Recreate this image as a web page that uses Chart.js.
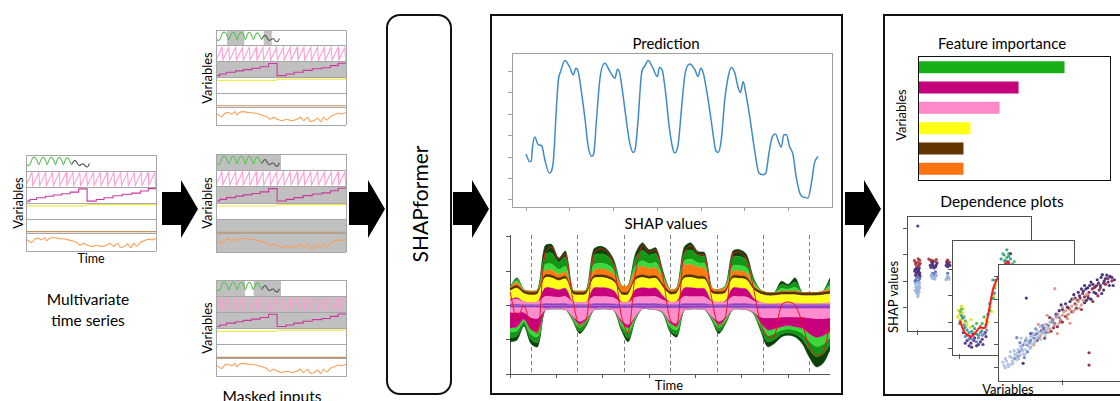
<!DOCTYPE html>
<html>
<head>
<meta charset="utf-8">
<script src="https://cdn.jsdelivr.net/npm/chart.js@4.4.1/dist/chart.umd.min.js"></script>
<style>
  body { margin:0; width:1120px; height:401px; overflow:hidden; background:#fff; position:relative; font-family: Lato, 'Open Sans', sans-serif; color:#000; }
  .t { position:absolute; transform:translate(-50%,-50%); white-space:nowrap; line-height:1; }
  .r { transform:translate(-50%,-50%) rotate(-90deg); }
  .box { position:absolute; box-sizing:border-box; border:2px solid #111; }
  .arrow { position:absolute; width:36px; height:58px; top:180px; background:#000;
           clip-path: polygon(0 12px, 19px 12px, 19px 0, 36px 29px, 19px 58px, 19px 45px, 0 45px); }
  .frame { position:absolute; box-sizing:border-box; background:#fff; border:1.5px solid #4d4d4d; }
  canvas { position:absolute; }
</style>
</head>
<body>

<!-- left: input series -->
<div class="t r" style="left:18px;top:203px;font-size:13px">Variables</div>
<div class="t" style="left:91px;top:259px;font-size:12.5px">Time</div>
<div class="t" style="left:88px;top:300px;font-size:15.5px">Multivariate</div>
<div class="t" style="left:88px;top:321px;font-size:15.5px">time series</div>

<div class="arrow" style="left:162px"></div>

<!-- masked inputs -->
<div class="t r" style="left:207px;top:78px;font-size:13px">Variables</div>
<div class="t r" style="left:207px;top:203px;font-size:13px">Variables</div>
<div class="t r" style="left:207px;top:328px;font-size:13px">Variables</div>
<div class="t" style="left:272px;top:397px;font-size:15.5px">Masked inputs</div>

<div class="arrow" style="left:349px"></div>

<div class="box" style="left:386px;top:14px;width:66px;height:381px;border-radius:14px"></div>
<div class="t r" style="left:419px;top:204px;font-size:21px">SHAPformer</div>

<div class="arrow" style="left:453px"></div>

<!-- middle box -->
<div class="box" style="left:490px;top:14px;width:353px;height:381px"></div>
<div class="t" style="left:666px;top:43px;font-size:15px">Prediction</div>
<div class="t" style="left:666px;top:223px;font-size:15px">SHAP values</div>
<div class="t" style="left:669px;top:385px;font-size:13px">Time</div>

<div class="arrow" style="left:845px"></div>

<!-- right box -->
<div class="box" style="left:883px;top:14px;width:260px;height:382px"></div>
<div class="t" style="left:1002px;top:43px;font-size:15px">Feature importance</div>
<div class="t r" style="left:901px;top:115px;font-size:13px">Variables</div>
<div class="t" style="left:1002px;top:202px;font-size:15.5px">Dependence plots</div>
<div class="t r" style="left:893px;top:297px;font-size:13px">SHAP values</div>
<div class="t" style="left:1008px;top:389px;font-size:13px">Variables</div>

<div class="frame" id="fiFrame" style="left:918px;top:56px;width:193px;height:125px;border:1.5px solid #111"></div>
<div class="frame" id="dp1" style="left:907px;top:216px;width:125px;height:116px"></div>
<div class="frame" id="dp2" style="left:952px;top:240px;width:123px;height:116px"></div>
<div class="frame" id="dp3" style="left:998px;top:264px;width:130px;height:118px"></div>

<script>
// ---- input series, time 0..100, each band 0..1 ----
const greenWave = [[0.5,0.4],[2,0.34],[3.6,0.5],[5,0.8],[6.7,0.86],[8.2,0.7],[9.8,0.4],[11.3,0.66],[12.9,0.86],[14.7,0.74],[16.2,0.4],[17.7,0.7],[19.3,0.86],[21,0.74],[22.6,0.4],[24.2,0.74],[25.7,0.86],[27.2,0.7],[28.8,0.4],[30.3,0.7],[31.9,0.82],[33.4,0.66],[35,0.4]];
const greyWave = [[35,0.4],[36.5,0.58],[38,0.66],[39.6,0.46],[41,0.34],[42.7,0.42],[44.2,0.44],[45.8,0.3],[47.3,0.26],[48.8,0.46]];
const pinkSaw = [[0,0.1],[4.6,0.9],[5.25,0.1],[9.85,0.9],[10.5,0.1],[15.1,0.9],[15.75,0.1],[20.35,0.9],[21,0.1],[25.6,0.9],[26.25,0.1],[30.85,0.9],[31.5,0.1],[36.1,0.9],[36.75,0.1],[41.35,0.9],[42,0.1],[46.6,0.9],[47.25,0.1],[51.85,0.9],[52.5,0.1],[57.1,0.9],[57.75,0.1],[62.35,0.9],[63,0.1],[67.6,0.9],[68.25,0.1],[72.85,0.9],[73.5,0.1],[78.1,0.9],[78.75,0.1],[83.35,0.9],[84,0.1],[88.6,0.9],[89.25,0.1],[93.85,0.9],[94.5,0.1],[99.1,0.9],[99.75,0.1],[100,0.2]];
const magentaSteps = [[0,0.9],[3,0.12],[8,0.22],[15,0.33],[21,0.42],[27.5,0.5],[34,0.58],[40.5,0.68],[47,0.88],[54,0.12],[60,0.22],[67,0.33],[74,0.45],[81.5,0.55],[88,0.62],[94,0.75],[99,0.9],[100,0.9]];
const yellowLine = [[0,0.82],[46,0.82],[47,0.9],[100,0.9]];
const brownLine = [[0,0.1],[100,0.1]];
const orangeLine = [[0.5,0.66],[1.8,0.57],[4.4,0.47],[6.9,0.66],[9.5,0.7],[12.1,0.62],[14.7,0.74],[15.9,0.57],[18,0.7],[21.1,0.75],[24.9,0.7],[30.1,0.66],[35.2,0.57],[39.1,0.47],[41.6,0.32],[44.2,0.43],[47.3,0.32],[50.6,0.25],[54.5,0.32],[58.4,0.25],[62.2,0.32],[64.8,0.43],[67.4,0.25],[70.4,0.43],[72.5,0.21],[75.6,0.25],[78.1,0.38],[80.7,0.19],[82.8,0.43],[85.3,0.28],[87.9,0.47],[91,0.57],[94.3,0.66],[96.9,0.62],[100,0.7]];

// masked parts: [band, from, to]
const maskTop = [[1,8.2,21.9],[1,36.5,43],[3,0,100]];
const maskMid = [[1,0,50],[3,0,100],[5,0,100],[6,0,100]];
const maskBottom = [[1,0,22.4],[1,28.8,50],[2,0,100],[3,0,100]];

// ---- prediction ----
const predX = [0,0.08,0.12,0.15,0.2,0.28,0.36,0.43,0.53,0.62,0.7,0.74,0.79,0.89,0.99,1.08,1.14,1.2,1.27,1.35,1.42,1.5,1.55,1.61,1.69,1.8,1.92,2.03,2.09,2.14,2.22,2.3,2.37,2.45,2.5,2.56,2.64,2.71,2.79,2.9,3.0,3.05,3.12,3.19,3.27,3.35,3.4,3.48,3.55,3.63,3.74,3.86,3.93,3.99,4.05,4.16,4.26,4.33,4.39,4.46,4.54,4.62,4.69,4.77,4.84,4.9,4.96,5.02,5.11,5.22,5.32,5.41,5.48,5.55,5.63,5.7,5.78,5.83,5.89,5.95,6.02,6.1,6.17,6.27,6.37,6.44,6.52,6.59,6.67];
const predY = [2.15,1.8,1.8,2.5,2.94,2.58,2.53,1.88,1.26,1.73,4.5,5.61,6.0,6.52,6.24,5.85,6.16,5.93,4.99,3.75,2.5,2.04,2.19,3.75,5.69,6.39,6.0,5.69,6.11,5.93,4.84,3.59,2.66,2.22,2.43,3.75,5.93,6.24,6.52,6.16,5.77,6.19,6.0,4.99,3.44,2.43,2.19,2.66,4.21,5.85,6.36,6.08,5.77,6.16,5.93,4.68,3.28,2.35,2.22,2.81,4.68,5.77,6.19,5.93,5.3,5.02,5.54,4.99,3.9,2.35,1.26,1.18,1.26,2.19,2.97,3.08,2.66,2.46,3.05,3.05,2.5,2.12,1.1,0.25,0.12,0.09,0.79,1.73,2.04];
const predXTicks = [0,1,2,3,4,5,6];
const predYTicks = [0,1,2,3,4,5,6];

// ---- SHAP values (stacked, positive and negative parts per variable) ----
const shapTime = [0,0.15,0.3,0.45,0.6,0.75,0.9,1.05,1.2,1.35,1.5,1.65,1.8,1.95,2.1,2.25,2.4,2.55,2.7,2.85,3,3.15,3.3,3.45,3.6,3.75,3.9,4.05,4.2,4.35,4.5,4.65,4.8,4.95,5.1,5.25,5.4,5.55,5.7,5.85,6,6.15,6.3,6.45,6.6,6.75,6.9];
const shapUpPurple = [0.03,0.03,0.02,0.02,0.02, 0.05,0.05,0.05,0.05, 0.02,0.02,0.02, 0.05,0.05,0.05,0.04, 0.02,0.02, 0.05,0.05,0.05,0.05, 0.03,0.02,0.02, 0.05,0.05,0.05,0.05, 0.02,0.02,0.02, 0.05,0.05,0.05,0.03, 0.02,0.02,0.02,0.02,0.02,0.02,0.02,0.02,0.02,0.02,0.02];
const shapUpPink = [0.12,0.15,0.08,0.06,0.08, 0.20,0.20,0.18,0.20, 0.08,0.06,0.08, 0.20,0.20,0.20,0.17, 0.06,0.06, 0.18,0.20,0.20,0.20, 0.12,0.07,0.08, 0.20,0.20,0.20,0.19, 0.08,0.07,0.08, 0.20,0.20,0.19,0.10, 0.06,0.02,0.02,0.04,0.04,0.04,0.02,0.02,0.02,0.03,0.05];
const shapUpMagenta = [0.02,0.04,0,0,0, 0.25,0.25,0.22,0.24, 0,0,0, 0.25,0.26,0.25,0.20, 0.02,0.02, 0.22,0.26,0.24,0.25, 0.12,0,0.02, 0.25,0.26,0.24,0.24, 0.02,0,0.03, 0.25,0.25,0.23,0.08, 0,0,0,0,0,0,0,0,0,0,0];
const shapUpYellow = [0.25,0.28,0.24,0.22,0.24, 0.30,0.30,0.27,0.28, 0.24,0.22,0.24, 0.28,0.30,0.28,0.26, 0.22,0.22, 0.28,0.30,0.28,0.28, 0.25,0.23,0.24, 0.28,0.30,0.28,0.27, 0.24,0.23,0.24, 0.28,0.28,0.27,0.25, 0.25,0.24,0.24,0.25,0.25,0.25,0.24,0.24,0.24,0.25,0.26];
const shapUpBrown = [0.08,0.08,0.08,0.08,0.08, 0.08,0.08,0.08,0.08, 0.08,0.08,0.08, 0.08,0.08,0.08,0.08, 0.08,0.08, 0.08,0.08,0.08,0.08, 0.08,0.08,0.08, 0.08,0.08,0.08,0.08, 0.08,0.08,0.08, 0.08,0.08,0.08,0.08, 0.08,0.08,0.08,0.08,0.08,0.08,0.08,0.08,0.08,0.08,0.08];
const shapUpOrange = [0.03,0.08,0.03,0.03,0.03, 0.12,0.14,0.10,0.12, 0.03,0.03,0.03, 0.15,0.17,0.16,0.14, 0.18,0.18, 0.18,0.25,0.22,0.23, 0.15,0.06,0.07, 0.28,0.30,0.26,0.25, 0.07,0.06,0.08, 0.12,0.14,0.12,0.06, 0.02,0.01,0.01,0.02,0.02,0.03,0.01,0.01,0.01,0.03,0.08];
const shapUpLime = [0,0.06,0,0,0, 0.17,0.18,0.14,0.16, 0,0,0, 0.16,0.16,0.16,0.12, 0,0, 0.14,0.16,0.14,0.15, 0.08,0,0, 0.14,0.15,0.13,0.13, 0,0,0.03, 0.16,0.16,0.15,0.07, 0.02,0,0,0.08,0.06,0.10,0,0,0,0,0.10];
const shapUpGreen = [0,0.05,0,0,0, 0.30,0.32,0.22,0.27, 0,0,0, 0.27,0.28,0.26,0.17, 0,0, 0.22,0.30,0.26,0.26, 0.10,0,0, 0.24,0.27,0.21,0.20, 0,0,0.02, 0.25,0.26,0.23,0.08, 0,0,0,0.12,0.09,0.16,0,0,0,0,0.12];
const shapUpDark = [0,0.03,0,0,0, 0.25,0.25,0.12,0.18, 0,0,0, 0.18,0.22,0.18,0.10, 0,0, 0.13,0.22,0.15,0.17, 0.06,0,0, 0.15,0.21,0.12,0.12, 0,0,0, 0.18,0.20,0.16,0.05, 0,0,0,0.09,0.05,0.12,0,0,0,0,0.09];
const shapDownPurple = [-0.05,-0.05,-0.05,-0.05,-0.05, -0.08,-0.07,-0.07,-0.07, -0.06,-0.06,-0.06, -0.08,-0.07,-0.07,-0.08, -0.07,-0.07, -0.06,-0.07,-0.07,-0.07, -0.07,-0.07,-0.07, -0.08,-0.07,-0.07,-0.07, -0.06,-0.06,-0.06, -0.07,-0.07,-0.07,-0.07, -0.08,-0.08,-0.08,-0.08,-0.08,-0.08,-0.08,-0.08,-0.08,-0.08,-0.08];
const shapDownPink = [-0.15,-0.15,-0.15,-0.30,-0.32, -0.06,-0.03,-0.03,-0.05, -0.25,-0.40,-0.30, -0.06,-0.03,-0.03,-0.07, -0.35,-0.48, -0.25,-0.03,-0.03,-0.05, -0.12,-0.38,-0.44, -0.07,-0.03,-0.03,-0.05, -0.25,-0.40,-0.28, -0.05,-0.03,-0.05,-0.12, -0.25,-0.28,-0.28,-0.26,-0.25,-0.26,-0.26,-0.28,-0.30,-0.30,-0.28];
const shapDownMagenta = [-0.45,-0.42,-0.20,-0.35,-0.38, 0,0,0,0, -0.02,-0.08,-0.04, 0,0,0,0, -0.06,-0.10, -0.02,0,0,0, 0,-0.06,-0.08, 0,0,0,0, -0.02,-0.08,-0.03, 0,0,0,0, -0.15,-0.35,-0.32,-0.28,-0.26,-0.28,-0.32,-0.45,-0.55,-0.50,-0.40];
const shapDownLime = [-0.13,-0.12,-0.08,-0.14,-0.15, 0,0,0,0, -0.04,-0.10,-0.07, 0,0,0,0, -0.09,-0.14, -0.04,0,0,0, -0.02,-0.10,-0.12, 0,0,0,0, -0.04,-0.10,-0.07, 0,0,0,-0.02, -0.09,-0.16,-0.14,-0.10,-0.10,-0.10,-0.15,-0.22,-0.26,-0.25,-0.17];
const shapDownGreen = [-0.16,-0.15,-0.07,-0.15,-0.17, 0,0,0,0, -0.04,-0.11,-0.07, 0,0,0,0, -0.09,-0.16, -0.04,0,0,0, -0.02,-0.10,-0.13, 0,0,0,0, -0.04,-0.11,-0.06, 0,0,0,-0.02, -0.09,-0.19,-0.17,-0.12,-0.11,-0.12,-0.17,-0.25,-0.30,-0.28,-0.20];
const shapDownDark = [-0.12,-0.12,-0.05,-0.12,-0.13, 0,0,0,0, -0.02,-0.07,-0.04, 0,0,0,0, -0.06,-0.11, -0.02,0,0,0, -0.01,-0.06,-0.08, 0,0,0,0, -0.02,-0.07,-0.03, 0,0,0,-0.01, -0.06,-0.14,-0.12,-0.08,-0.07,-0.08,-0.13,-0.22,-0.30,-0.28,-0.17];
const shapTotal = [0.4,-0.4,0.0,-0.6,-0.8, 1.5,1.7,1.35,1.5, 0.2,-0.6,-0.4, 1.5,1.65,1.55,1.1, -0.3,-0.8, 0.9,1.75,1.55,1.6, 0.8,-0.4,-0.6, 1.5,1.75,1.5,1.45, 0.2,-0.6,-0.3, 1.5,1.55,1.35,0.5, -0.5,-0.9,-0.9,0.0,0.1,0.0,-0.5,-1.2,-1.45,-1.4,-0.5];
const shapXTicks = [0,1,2,3,4,5,6];
const shapYTicks = [-2,-1,0,1,2];
const shapDashTimes = [0.46,1.46,2.47,3.46,4.47,5.46,6.45];

// ---- feature importance ----
const featureNames = ['var A','var B','var C','var D','var E','var F'];
const featureImportance = [7.66,5.24,4.24,2.71,2.34,2.34];

// ---- dependence plots ----
const dp1Red = [[-0.08,1.78],[0.0,1.72],[0.06,1.8],[-0.05,1.65],[0.03,1.6],[0.07,1.68],[-0.02,1.55],[0.35,1.8],[0.45,1.75],[0.5,1.82],[0.78,1.76],[0.02,1.85],[-0.04,1.7],[0.05,1.62],[0.4,1.78],[0.3,1.84],[0.8,1.8],[0.85,1.72]];
const dp1Purple = [[-0.06,1.45],[0.02,1.4],[0.05,1.5],[-0.03,1.3],[0.04,1.25],[0.0,1.35],[0.07,1.2],[-0.07,1.38],[0.01,3.1],[0.34,1.6],[0.4,1.65],[0.48,1.55],[0.52,1.7],[0.38,1.72],[0.44,1.5],[0.76,1.6],[0.82,1.65],[0.8,1.55],[-0.02,1.48],[0.06,1.32],[-0.05,1.22],[0.03,1.42],[0.42,1.58],[0.5,1.62],[0.36,1.52],[0.78,1.7],[0.86,1.6]];
const dp1Blue = [[-0.04,1.05],[0.03,1.0],[0.06,1.1],[0.4,1.3],[0.48,1.35],[-0.01,1.15],[0.44,1.25],[0.8,1.3],[-0.06,1.0]];
const dp1Light = [[-0.05,0.9],[0.0,0.8],[0.05,0.85],[-0.02,0.7],[0.04,0.6],[-0.06,0.65],[0.02,0.5],[0.06,0.75],[0.0,0.95],[0.36,1.2],[0.42,1.15],[0.5,1.22],[0.46,1.08],[0.78,1.12],[0.84,1.08],[0.8,1.18],[-0.03,0.55],[-0.04,0.78],[0.03,0.68],[0.05,0.95],[-0.01,0.6],[0.01,0.42],[0.4,1.1],[0.48,1.18],[0.38,1.25],[0.82,1.14],[0.76,1.06]];
const dp2Yellow = [[0.0,1.3],[0.05,1.0],[0.1,1.5],[-0.05,1.2],[0.2,0.9],[0.3,1.1],[0.6,0.7],[0.75,1.0],[0.85,1.4],[0.95,2.4],[0.05,1.6],[2.15,3.15],[0.4,0.6],[0.02,1.1],[0.08,1.35],[0.18,1.0],[0.28,0.8],[0.7,1.1],[0.82,1.55],[0.9,2.0],[-0.03,1.45]];
const dp2Teal = [[0.08,1.15],[0.15,0.8],[0.25,0.6],[0.4,0.75],[0.5,0.5],[0.7,0.9],[0.8,1.7],[0.92,2.1],[0.88,2.6],[1.2,3.35],[1.3,3.5],[1.4,3.2],[0.0,0.95],[1.25,3.75],[0.05,1.25],[0.12,0.9],[0.2,0.7],[0.32,0.65],[0.45,0.55],[0.58,0.65],[0.75,1.3],[0.85,1.9],[0.95,2.6],[1.1,3.4],[1.35,3.4],[1.18,3.55]];
const dp2Green = [[0.02,1.4],[0.12,1.2],[0.45,0.95],[0.65,1.2],[0.9,1.9],[1.25,3.45],[1.45,3.3],[1.15,3.6],[2.8,3.0],[0.55,0.85],[0.05,1.5],[0.15,1.05],[0.35,0.85],[0.6,0.95],[0.8,1.45],[0.93,2.3],[1.3,3.6],[1.2,3.3]];
const dp2Purple = [[0.2,0.3],[0.3,0.2],[0.4,0.4],[0.5,0.15],[0.6,0.35],[0.35,0.55],[0.1,0.6],[1.35,3.6],[0.7,0.45],[0.25,0.1],[0.15,0.2],[0.28,0.4],[0.38,0.3],[0.45,0.1],[0.55,0.25],[0.62,0.15],[0.68,0.6],[0.32,0.05],[1.28,3.3]];
const dp2Blue = [[0.25,0.35],[0.45,0.25],[0.55,0.6],[0.15,0.45],[0.65,0.55],[0.2,0.5],[0.35,0.35],[0.5,0.4],[0.6,0.5],[0.72,0.7],[0.1,0.75]];
const dp2Trend = [[0,1.07],[0.15,0.57],[0.33,0.46],[0.53,0.79],[0.68,0.79],[0.9,2.32],[1.2,3.2],[1.3,3.27],[1.35,3.1],[1.5,3.0]];
const dp3Light = [[0.08,0.1],[0.12,0.3],[0.15,0.05],[0.2,0.45],[0.22,0.2],[0.25,0.6],[0.28,0.35],[0.3,0.8],[0.33,0.55],[0.36,0.9],[0.38,0.6],[0.4,1.1],[0.42,0.8],[0.45,1.2],[0.47,0.95],[0.5,1.35],[0.52,1.05],[0.55,1.5],[0.57,1.2],[0.6,1.65],[0.62,1.35],[0.65,1.8],[0.68,1.5],[0.72,1.9],[0.75,1.65],[0.8,2.0],[0.18,0.7],[0.35,1.3],[0.1,0.4],[0.14,0.15],[0.17,0.5],[0.21,0.3],[0.24,0.75],[0.27,0.5],[0.31,0.4],[0.34,0.95],[0.37,0.75],[0.41,0.6],[0.43,1.3],[0.46,1.05],[0.49,0.85],[0.53,1.4],[0.56,1.1],[0.59,1.3],[0.63,1.55],[0.66,1.25],[0.7,1.6],[0.73,1.4],[0.77,1.75],[0.06,0.25],[0.1,0.0],[0.19,0.15],[0.29,0.65]];
const dp3Blue = [[0.25,0.4],[0.32,0.7],[0.38,1.0],[0.44,1.0],[0.5,1.2],[0.55,1.3],[0.6,1.5],[0.66,1.6],[0.7,1.75],[0.78,1.85],[0.85,2.1],[0.9,2.3],[0.45,0.7],[0.58,1.7],[0.28,1.32],[0.3,0.5],[0.36,0.8],[0.42,1.2],[0.48,1.1],[0.52,1.5],[0.57,1.45],[0.63,1.3],[0.68,1.85],[0.74,1.55],[0.82,2.0],[0.88,1.95],[0.95,2.2],[0.4,0.45],[0.33,1.1]];
const dp3Tan = [[0.55,1.0],[0.65,1.4],[0.7,1.55],[0.75,1.9],[0.8,1.7],[0.85,2.0],[0.9,2.2],[0.95,1.95],[1.0,2.3],[1.05,2.5],[1.1,2.35],[1.15,2.7],[1.2,2.55],[1.25,2.9],[1.3,2.75],[0.88,3.46],[1.0,2.65],[1.08,2.15],[0.62,1.9],[1.18,3.0],[0.58,1.25],[0.67,1.65],[0.72,1.75],[0.78,1.55],[0.83,2.15],[0.87,1.85],[0.93,2.35],[0.97,2.1],[1.02,2.45],[1.07,2.3],[1.12,2.55],[1.17,2.45],[1.22,2.75],[1.27,2.6],[1.33,2.95],[0.76,2.3],[1.12,1.95],[0.92,1.5],[1.38,3.2],[0.5,0.9]];
const dp3Maroon = [[0.6,1.2],[0.72,1.3],[0.82,1.6],[0.92,1.8],[1.0,2.0],[1.1,2.6],[1.2,2.8],[1.28,3.05],[1.35,3.1],[1.42,3.3],[1.5,3.5],[1.58,3.4],[1.65,3.7],[1.42,0.66],[1.42,0.12],[0.86,1.75],[0.97,2.05],[1.05,2.25],[1.15,2.45],[1.24,2.95],[1.32,3.25],[1.4,3.15],[1.47,3.45],[1.54,3.6],[1.6,3.5],[1.68,3.65],[1.72,3.9],[1.78,3.8],[1.3,2.55],[1.48,2.9],[1.56,3.15]];
const dp3Purple = [[0.43,3.05],[0.5,1.5],[0.7,1.65],[0.8,2.2],[0.95,2.5],[1.05,2.8],[1.12,2.9],[1.18,3.2],[1.25,3.3],[1.3,3.45],[1.35,3.6],[1.4,3.5],[1.45,3.75],[1.5,3.3],[1.55,3.85],[1.6,3.6],[1.63,4.07],[1.68,3.9],[1.72,3.75],[1.75,4.0],[1.45,3.0],[1.38,2.95],[1.22,2.6],[1.62,3.25],[0.38,0.2],[0.9,2.35],[1.0,2.55],[1.08,2.65],[1.15,3.0],[1.2,3.05],[1.27,3.15],[1.33,3.35],[1.37,3.45],[1.43,3.6],[1.48,3.65],[1.52,3.55],[1.57,3.7],[1.61,3.95],[1.66,3.8],[1.7,4.05],[1.74,3.6],[1.78,3.95],[1.82,3.85],[1.65,3.4],[1.53,3.25],[1.41,3.05],[1.35,2.85],[0.98,2.75],[1.8,3.6]];

Chart.defaults.font.family = 'Lato';
const common = { responsive: false, animation: false, events: [],
  plugins: { legend: { display: false }, tooltip: { enabled: false } } };
const pts = arr => arr.map(p => ({ x: p[0], y: p[1] }));
const setTicks = list => (s => { s.ticks = list.map(v => ({ value: v })); });

function place(w, h, left, top, parent) {
  const c = document.createElement('canvas');
  c.width = w; c.height = h;
  c.style.left = left + 'px'; c.style.top = top + 'px';
  (parent || document.body).appendChild(c);
  return c;
}

// stacked band axes, top to bottom
const bandWeights = [16, 16, 16, 16, 14, 18];

function tsPanel(canvas, masks) {
  const line = (data, axis, color, tension) => ({ data: pts(data), yAxisID: axis, borderColor: color,
    borderWidth: 1.1, pointRadius: 0, tension: tension, fill: false });
  const ds = [
    line(greenWave, 'b1', '#5cc05c', 0.4),
    line(greyWave, 'b1', '#4d584d', 0.4),
    line(pinkSaw, 'b2', '#ff9fd4', 0),
    Object.assign(line(magentaSteps, 'b3', '#c8399c', 0), { stepped: 'after' }),
    line(yellowLine, 'b4', '#eeea4a', 0),
    line(brownLine, 'b5', '#c8905a', 0),
    line(orangeLine, 'b6', '#f7a05a', 0.3)
  ];
  masks.forEach(m => ds.push({ data: [{ x: m[1], y: 1 }, { x: m[2], y: 1 }], yAxisID: 'b' + m[0],
    fill: 'start', backgroundColor: '#c0c0c0', borderWidth: 0, pointRadius: 0, order: 10 }));
  const scales = {
    x: { type: 'linear', min: 0, max: 100, ticks: { display: false },
         grid: { drawTicks: false, color: '#a6a6a6', z: 1 }, border: { display: false },
         afterBuildTicks: setTicks([0, 100]) }
  };
  // the last stacked axis is placed on top, so add the bottom band first
  for (let b = 6; b >= 1; b--) {
    scales['b' + b] = { type: 'linear', position: 'left', stack: 'bands', stackWeight: bandWeights[b - 1],
      min: 0, max: 1, ticks: { display: false }, grid: { drawTicks: false, color: '#a6a6a6', z: 1 },
      border: { display: false }, afterBuildTicks: setTicks([0, 1]) };
  }
  new Chart(canvas, { type: 'line', data: { datasets: ds },
    options: Object.assign({}, common, { layout: { padding: 1 }, scales }) });
}

tsPanel(place(132, 98, 25, 154), []);
tsPanel(place(132, 97, 215, 29), maskTop);
tsPanel(place(132, 100, 215, 153), maskMid);
tsPanel(place(132, 99, 215, 279), maskBottom);

// prediction
const tickAxis = (list, min, max, color) => ({ type: 'linear', min, max, afterBuildTicks: setTicks(list),
  ticks: { display: false }, grid: { drawOnChartArea: false, tickLength: 4, color: color },
  border: { color: color } });
const edgeAxis = (pos, color) => ({ type: 'linear', position: pos, min: 0, max: 1, ticks: { display: false },
  grid: { display: false, drawTicks: false }, border: { color: color } });

new Chart(place(325, 159, 508, 52), {
  type: 'line',
  data: { datasets: [{ data: predX.map((x, i) => ({ x, y: predY[i] })), borderColor: '#3f8bc7',
    borderWidth: 1.5, pointRadius: 0, cubicInterpolationMode: 'monotone', fill: false }] },
  options: Object.assign({}, common, { layout: { padding: { top: 1, right: 1 } },
    scales: {
      x: tickAxis(predXTicks, -0.32, 6.99, '#a0a0a0'),
      y: tickAxis(predYTicks, -0.33, 6.87, '#a0a0a0'),
      x2: edgeAxis('top', '#a0a0a0'),
      y2: edgeAxis('right', '#a0a0a0')
    } })
});

// SHAP values
const shapUp = [[shapUpPurple, '#9040c0'], [shapUpPink, '#ff8ccc'], [shapUpMagenta, '#c8007c'],
  [shapUpYellow, '#ffff1a'], [shapUpBrown, '#5a3000'], [shapUpOrange, '#ff7a10'],
  [shapUpLime, '#3ad83a'], [shapUpGreen, '#149614'], [shapUpDark, '#0a420a']];
const shapDown = [[shapDownPurple, '#9040c0'], [shapDownPink, '#ff8ccc'], [shapDownMagenta, '#c8007c'],
  [shapDownLime, '#3ad83a'], [shapDownGreen, '#149614'], [shapDownDark, '#0a420a']];
const area = (vals, color, stack, fill) => ({ data: vals.map((v, i) => ({ x: shapTime[i], y: v })),
  stack, fill, backgroundColor: color, borderColor: color, borderWidth: 0.6, pointRadius: 0, tension: 0.3 });
const shapSets = [];
shapUp.forEach(([v, c], i) => shapSets.push(area(v, c, 'pos', i === 0 ? 'origin' : '-1')));
shapDown.forEach(([v, c], i) => shapSets.push(area(v, c, 'neg', i === 0 ? 'origin' : '-1')));
shapSets.push({ data: shapTotal.map((v, i) => ({ x: shapTime[i], y: v })), stack: 'total', fill: false,
  borderColor: '#e8141e', borderWidth: 1, pointRadius: 0, tension: 0.3, order: -1 });

const shapY = tickAxis(shapYTicks, -2, 2.05, '#555');
shapY.stacked = true;
new Chart(place(324, 144, 506, 234), {
  type: 'line',
  data: { datasets: shapSets },
  options: Object.assign({}, common, { layout: { padding: { top: 1 } },
    scales: {
      x: tickAxis(shapXTicks, 0, 6.9, '#555'),
      y: shapY,
      x2: { type: 'linear', position: 'bottom', min: 0, max: 6.9, afterBuildTicks: setTicks(shapDashTimes),
            ticks: { display: false }, grid: { drawTicks: false, color: '#808080', lineWidth: 1 },
            border: { display: false, dash: [4, 3] } }
    } })
});

// feature importance
new Chart(place(190, 122, 0, 0, document.getElementById('fiFrame')), {
  type: 'bar',
  data: { labels: featureNames, datasets: [{ data: featureImportance,
    backgroundColor: ['#17b017', '#c4007a', '#ff88c8', '#ffff14', '#633500', '#ff7410'],
    barPercentage: 0.59, categoryPercentage: 1 }] },
  options: Object.assign({}, common, { indexAxis: 'y', layout: { padding: 0 },
    scales: { x: { display: false, min: 0, max: 10 }, y: { display: false } } })
});

// dependence plots
function dpChart(frameId, w, h, groups, xr, yr, xt, yt, extra) {
  const ds = groups.map(([p, c]) => ({ type: 'scatter', data: pts(p), backgroundColor: c,
    borderWidth: 0, pointRadius: 1.6 }));
  if (extra) ds.push(extra);
  const ax = (list, r) => ({ type: 'linear', min: r[0], max: r[1], afterBuildTicks: setTicks(list),
    ticks: { display: false }, grid: { drawOnChartArea: false, tickLength: 5, color: '#555' },
    border: { display: false } });
  new Chart(place(w + 5, h + 5, -5, 0, document.getElementById(frameId)), {
    type: 'scatter', data: { datasets: ds },
    options: Object.assign({}, common, { layout: { padding: 0 }, scales: { x: ax(xt, xr), y: ax(yt, yr) } })
  });
}

dpChart('dp1', 122, 113, [[dp1Light, 'rgba(150,178,218,0.9)'], [dp1Blue, 'rgba(80,100,180,0.9)'],
  [dp1Purple, 'rgba(70,40,120,0.9)'], [dp1Red, 'rgba(170,50,60,0.9)']],
  [-0.25, 2.875], [-0.86, 3.29], [0], [0, 1, 2, 3]);

dpChart('dp2', 120, 113, [[dp2Blue, 'rgba(100,128,192,0.9)'], [dp2Purple, 'rgba(74,42,128,0.9)'],
  [dp2Teal, 'rgba(42,154,138,0.9)'], [dp2Green, 'rgba(74,184,74,0.9)'], [dp2Yellow, 'rgba(225,220,40,0.95)']],
  [-0.175, 2.9], [-0.21, 3.93], [0], [0, 1, 2, 3],
  { type: 'line', data: pts(dp2Trend), borderColor: '#ff1a1a', borderWidth: 2, pointRadius: 0,
    tension: 0.2, fill: false, order: -1 });

dpChart('dp3', 127, 115, [[dp3Light, 'rgba(168,192,224,0.9)'], [dp3Blue, 'rgba(106,122,184,0.9)'],
  [dp3Tan, 'rgba(216,144,122,0.9)'], [dp3Maroon, 'rgba(138,32,64,0.9)'], [dp3Purple, 'rgba(58,32,112,0.9)']],
  [0, 1.94], [-0.53, 4.32], [1], [0, 1, 2, 3, 4]);
</script>
</body>
</html>
